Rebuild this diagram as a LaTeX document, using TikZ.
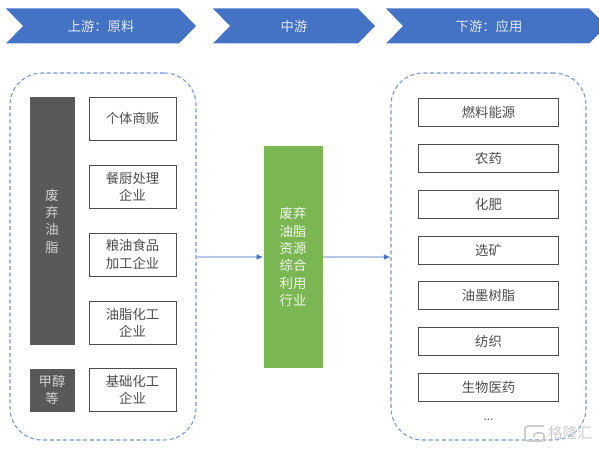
\documentclass[tikz,border=0pt]{standalone}
\usepackage{fontspec}
\setmainfont{Noto Sans CJK SC}[Scale=1]
\definecolor{chev}{HTML}{4472C4}
\definecolor{dashc}{HTML}{6F97DC}
\definecolor{grn}{HTML}{7AB651}
\definecolor{gry}{HTML}{595959}
\definecolor{arr}{HTML}{B4C7E7}
\usetikzlibrary{arrows.meta}
\tikzset{
  chevlabel/.style={text=white!85!chev,font=\fontsize{10}{12}\selectfont,inner sep=0pt},
  whitebox/.style={draw=black!70,line width=0.7pt,fill=white,text=black!70,align=center,inner sep=0pt,font=\fontsize{10}{13}\selectfont},
  greybox/.style={fill=gry,text=white!82!black,align=center,inner sep=0pt,font=\fontsize{10}{13}\selectfont},
  greenbox/.style={fill=grn,text=white!90!grn,align=center,inner sep=0pt,font=\fontsize{10}{13}\selectfont},
  group/.style={draw=dashc,line width=0.8pt,dash pattern=on 3pt off 2pt,rounded corners=24pt},
  flow/.style={draw=arr,line width=1pt,-{Latex[length=5pt,width=4.5pt,color=chev]}}
}
\begin{document}
\begin{tikzpicture}[x=0.75pt,y=-0.75pt]
\useasboundingbox (0,0) rectangle (599,449);
\fill[white] (0,0) rectangle (599,449);
\fill[chev] (6,8.5) -- (179,8.5) -- (196,26) -- (179,43.5) -- (6,43.5) -- (23,26) -- cycle;
\fill[chev] (213,8.5) -- (358,8.5) -- (375,26) -- (358,43.5) -- (213,43.5) -- (230,26) -- cycle;
\fill[chev] (386,8.5) -- (589,8.5) -- (599,18.5) -- (599,33.5) -- (589,43.5) -- (386,43.5) -- (403,26) -- cycle;
\node[chevlabel] (h1) at (101,26) {上游：原料};
\node[chevlabel] (h2) at (294,26) {中游};
\node[chevlabel] (h3) at (489,26) {下游：应用};
\node[group,minimum width=186pt*0.75,minimum height=367pt*0.75] (gl) at (103,256.5) {};
\node[group,minimum width=195pt*0.75,minimum height=367pt*0.75] (gr) at (488.5,256.5) {};
\node[greybox,minimum width=45pt*0.75,minimum height=248pt*0.75] (oil) at (52,221) {废\\弃\\油\\脂};
\node[greybox,minimum width=45pt*0.75,minimum height=43pt*0.75] (meth) at (52,390) {甲醇\\等};
\node[whitebox,minimum width=87pt*0.75,minimum height=43pt*0.75] (a1) at (132.5,118.5) {个体商贩};
\node[whitebox,minimum width=87pt*0.75,minimum height=43pt*0.75] (a2) at (132.5,186.5) {餐厨处理\\企业};
\node[whitebox,minimum width=87pt*0.75,minimum height=43pt*0.75] (a3) at (132.5,254.5) {粮油食品\\加工企业};
\node[whitebox,minimum width=87pt*0.75,minimum height=43pt*0.75] (a4) at (132.5,323) {油脂化工\\企业};
\node[whitebox,minimum width=87pt*0.75,minimum height=43pt*0.75] (a5) at (132.5,390) {基础化工\\企业};
\node[greenbox,minimum width=59pt*0.75,minimum height=222pt*0.75] (mid) at (293,257) {废弃\\油脂\\资源\\综合\\利用\\行业};
\node[whitebox,minimum width=140pt*0.75,minimum height=28pt*0.75] (b1) at (488.5,112) {燃料能源};
\node[whitebox,minimum width=140pt*0.75,minimum height=28pt*0.75] (b2) at (488.5,158) {农药};
\node[whitebox,minimum width=140pt*0.75,minimum height=28pt*0.75] (b3) at (488.5,204) {化肥};
\node[whitebox,minimum width=140pt*0.75,minimum height=28pt*0.75] (b4) at (488.5,250) {选矿};
\node[whitebox,minimum width=140pt*0.75,minimum height=28pt*0.75] (b5) at (488.5,295.5) {油墨树脂};
\node[whitebox,minimum width=140pt*0.75,minimum height=28pt*0.75] (b6) at (488.5,341.5) {纺织};
\node[whitebox,minimum width=140pt*0.75,minimum height=28pt*0.75] (b7) at (488.5,387.5) {生物医药};
\node[text=black!60,inner sep=0pt,font=\fontsize{9}{10}\selectfont] (dots) at (488.5,420) {...};
\draw[flow] (gl.east |- mid) -- (mid.west);
\draw[flow] (mid.east) -- (gr.west |- mid);
\node[text=black!20,inner sep=0pt,font=\fontsize{11}{12}\selectfont] (wm) at (570,433) {格隆汇};
\draw[black!20,line width=1.2pt,rounded corners=2pt] (544,426) -- (525,426) -- (525,441) -- (544,441) -- (544,433) -- (534,433) -- (534,437);
\end{tikzpicture}
\end{document}
